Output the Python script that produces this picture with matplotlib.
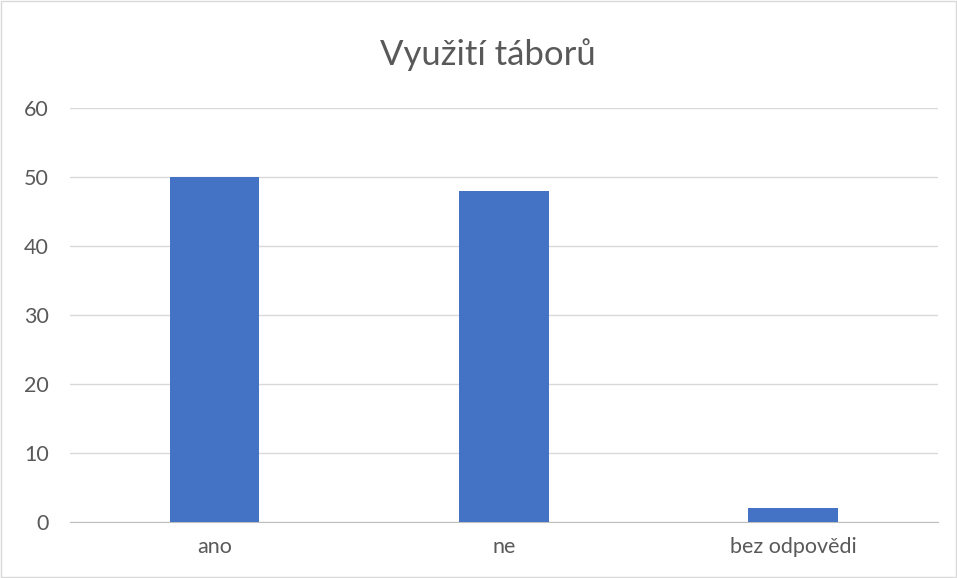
import matplotlib.pyplot as plt
from matplotlib.patches import Rectangle

categories = ["ano", "ne", "bez odpovědi"]
values = [50, 48, 2]
y_ticks = [0, 10, 20, 30, 40, 50, 60]

plt.rcParams["font.family"] = ["Lato", "DejaVu Sans"]

fig = plt.figure(figsize=(9.57, 5.78), dpi=100)
ax = fig.add_axes([0.073, 0.097, 0.907, 0.716])

x = list(range(len(categories)))
ax.bar(x, values, width=0.31, color="#4472c4", zorder=3)

ax.set_xlim(-0.5, len(categories) - 0.5)
ax.set_ylim(0, 60)
ax.set_yticks(y_ticks)
ax.set_xticks(x)
ax.set_xticklabels(categories)
ax.grid(axis="y", color="#d9d9d9", linewidth=1, zorder=0)
for side in ["top", "right", "left"]:
    ax.spines[side].set_visible(False)
ax.spines["bottom"].set_color("#bfbfbf")
ax.tick_params(axis="both", length=0, labelsize=15.5, colors="#595959")
ax.tick_params(axis="y", pad=15)
ax.tick_params(axis="x", pad=11)

fig.text(0.51, 0.905, "Využití táborů", ha="center", va="center",
         fontsize=25, color="#595959")

fig.patches.append(Rectangle((0.001, 0.001), 0.998, 0.998, transform=fig.transFigure,
                             fill=False, edgecolor="#d9d9d9", linewidth=1))

fig.savefig("out.png", dpi=100)
